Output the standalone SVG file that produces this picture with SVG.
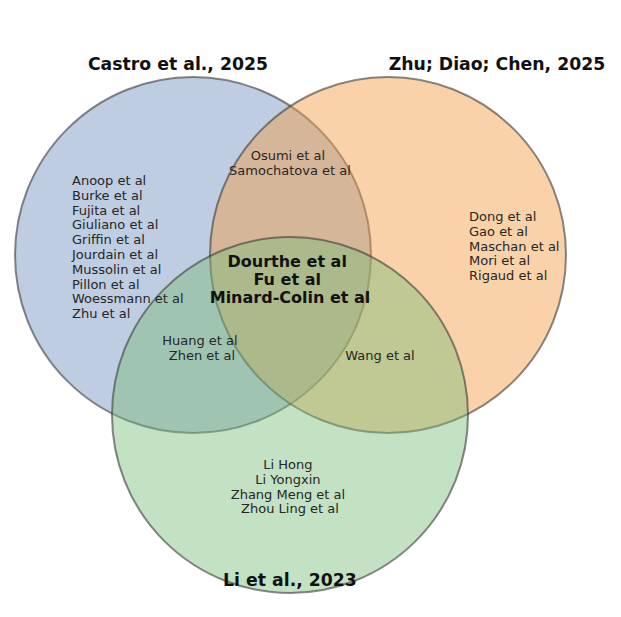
<svg xmlns="http://www.w3.org/2000/svg" width="621" height="617" viewBox="0 0 621 617">
<style>
.set{stroke:#3a3a3a;stroke-opacity:0.6;stroke-width:2;fill-opacity:0.45}
.t{font-family:"DejaVu Sans",sans-serif;font-size:13px;fill:#262626}
.b{font-family:"DejaVu Sans",sans-serif;font-weight:bold;fill:#111}
.title{font-size:17.3px}
.core{font-size:16px}
.m{text-anchor:middle}
</style>
<rect width="621" height="617" fill="#ffffff"/>
<g id="circles">
<g id="set-castro"><circle class="set" cx="193" cy="255" r="178" fill="#6f90bd"/></g>
<g id="set-zhu"><circle class="set" cx="388" cy="255" r="178" fill="#f49c43"/></g>
<g id="set-li"><circle class="set" cx="290" cy="415" r="178" fill="#7abd7a"/></g>
</g>
<g id="connectors"></g>
<g id="title-castro"><text class="b title m" x="178" y="70">Castro et al., 2025</text></g>
<g id="title-zhu"><text class="b title m" x="497" y="70">Zhu; Diao; Chen, 2025</text></g>
<g id="title-li"><text class="b title m" x="290" y="586">Li et al., 2023</text></g>
<g id="only-castro"><text class="t">
<tspan x="72" y="185">Anoop et al</tspan>
<tspan x="72" y="199.8">Burke et al</tspan>
<tspan x="72" y="214.6">Fujita et al</tspan>
<tspan x="72" y="229.4">Giuliano et al</tspan>
<tspan x="72" y="244.2">Griffin et al</tspan>
<tspan x="72" y="259">Jourdain et al</tspan>
<tspan x="72" y="273.8">Mussolin et al</tspan>
<tspan x="72" y="288.6">Pillon et al</tspan>
<tspan x="72" y="303.4">Woessmann et al</tspan>
<tspan x="72" y="318.2">Zhu et al</tspan>
</text></g>
<g id="castro-zhu"><text class="t m">
<tspan x="290" y="160">Osumi et al</tspan>
<tspan x="290" y="174.8">Samochatova et al</tspan>
</text></g>
<g id="all-three"><text class="b core m">
<tspan x="290" y="267">Dourthe et al</tspan>
<tspan x="290" y="285">Fu et al</tspan>
<tspan x="290" y="303">Minard-Colin et al</tspan>
</text></g>
<g id="only-zhu"><text class="t">
<tspan x="469" y="221">Dong et al</tspan>
<tspan x="469" y="235.8">Gao et al</tspan>
<tspan x="469" y="250.6">Maschan et al</tspan>
<tspan x="469" y="265.4">Mori et al</tspan>
<tspan x="469" y="280.2">Rigaud et al</tspan>
</text></g>
<g id="castro-li"><text class="t m">
<tspan x="202" y="345">Huang et al</tspan>
<tspan x="202" y="359.8">Zhen et al</tspan>
</text></g>
<g id="zhu-li"><text class="t m" x="380" y="360">Wang et al</text></g>
<g id="only-li"><text class="t m">
<tspan x="290" y="469">Li Hong</tspan>
<tspan x="290" y="483.8">Li Yongxin</tspan>
<tspan x="290" y="498.6">Zhang Meng et al</tspan>
<tspan x="290" y="513.4">Zhou Ling et al</tspan>
</text></g>
</svg>
